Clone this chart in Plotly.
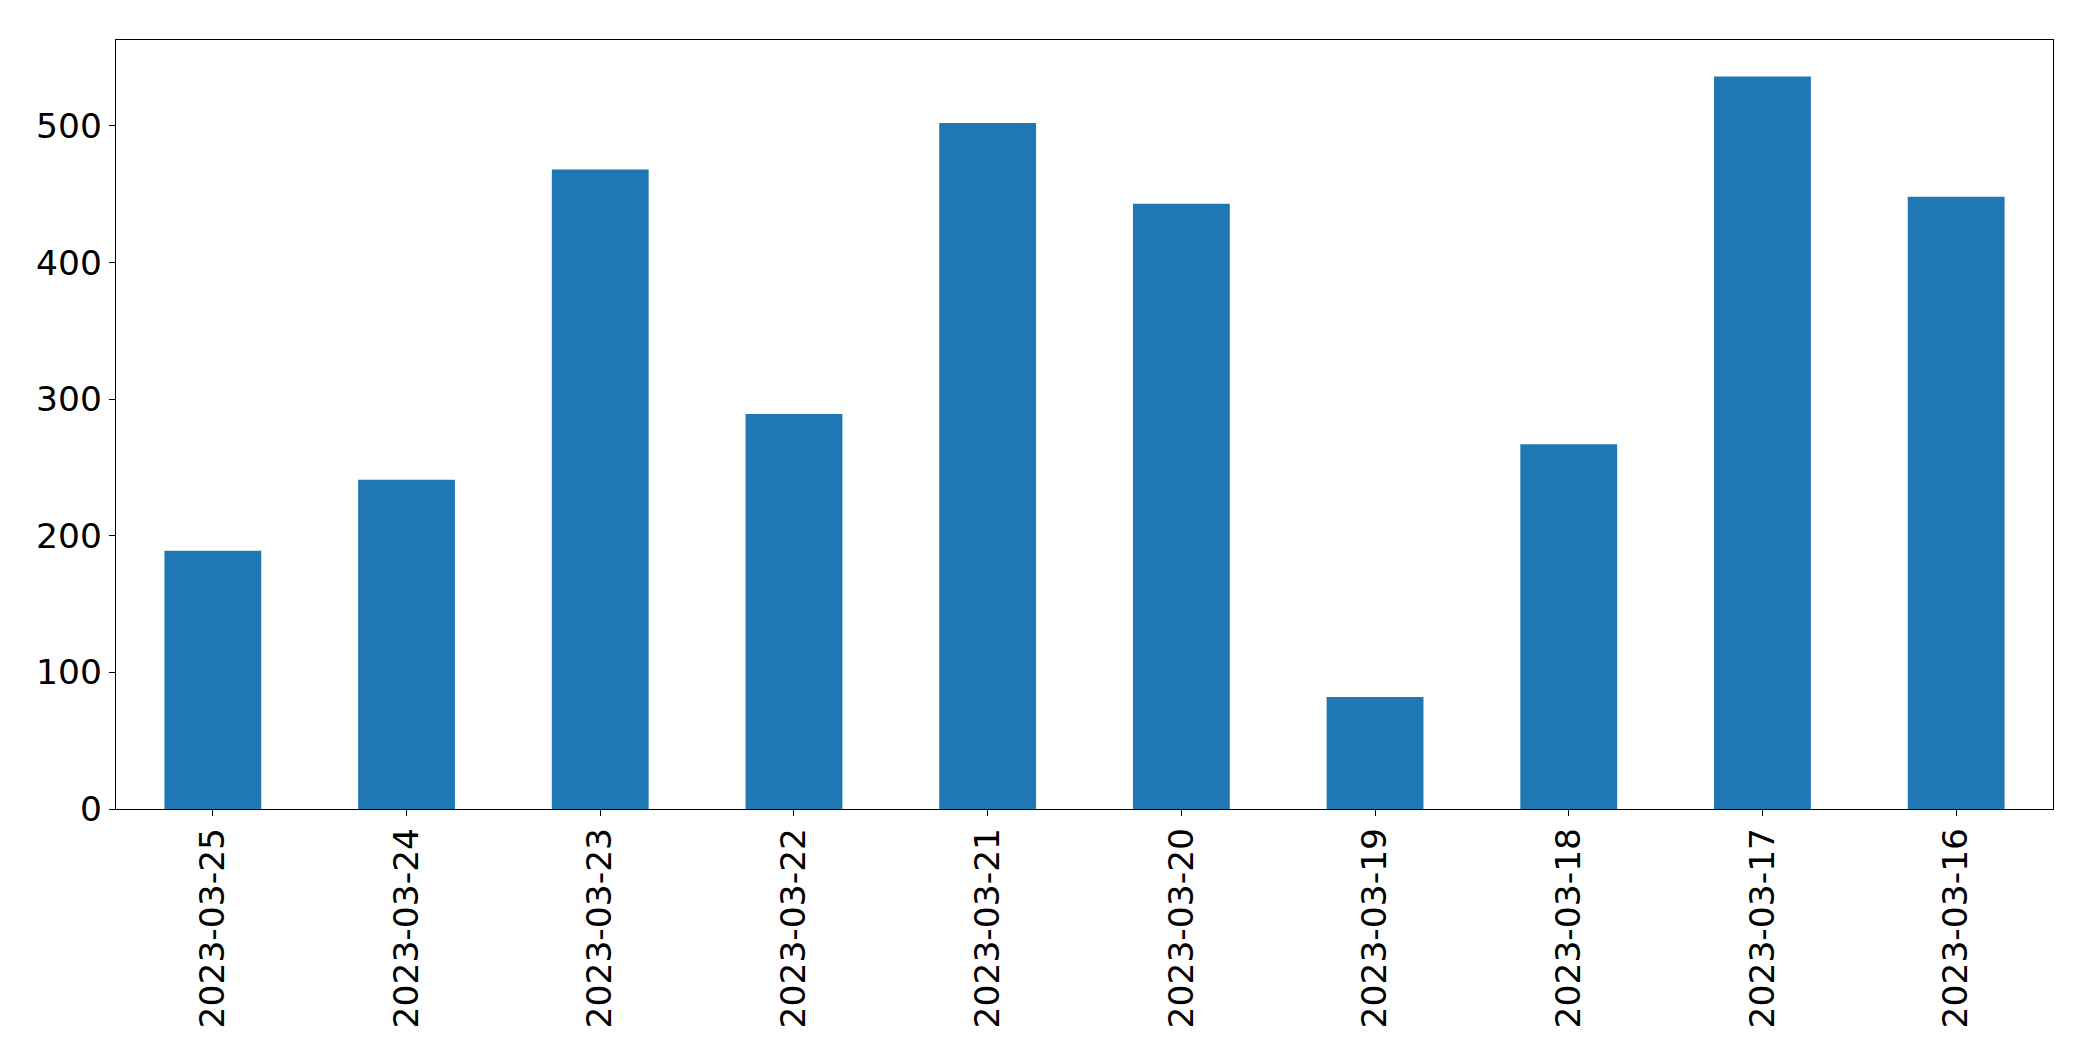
import plotly.graph_objects as go

dates = ["2023-03-25", "2023-03-24", "2023-03-23", "2023-03-22", "2023-03-21",
         "2023-03-20", "2023-03-19", "2023-03-18", "2023-03-17", "2023-03-16"]
values = [189, 241, 468, 289, 502, 443, 82, 267, 536, 448]
y_ticks = [0, 100, 200, 300, 400, 500]

fig = go.Figure(go.Bar(x=dates, y=values, marker=dict(color="#1f77b4", line=dict(width=0))))

font = dict(family="DejaVu Sans", size=34.5, color="black")
fig.update_layout(
    width=2077, height=1045,
    margin=dict(l=108, r=32, t=32, b=244, pad=0),
    paper_bgcolor="white", plot_bgcolor="white",
    bargap=0.5, showlegend=False, font=font,
)
fig.update_xaxes(
    type="category", range=[-0.5, len(dates) - 0.5],
    showline=True, linecolor="black", linewidth=1.3, mirror=True,
    ticks="outside", ticklen=6, tickwidth=1.3, tickcolor="black",
    tickangle=-90, showgrid=False, zeroline=False, tickfont=font,
    ticklabelstandoff=-2,
)
fig.update_yaxes(
    range=[0, max(values) * 1.05], tickvals=y_ticks,
    showline=True, linecolor="black", linewidth=1.3, mirror=True,
    ticks="outside", ticklen=6, tickwidth=1.3, tickcolor="black",
    showgrid=False, zeroline=False, tickfont=font,
)
fig.write_html("out.html")
